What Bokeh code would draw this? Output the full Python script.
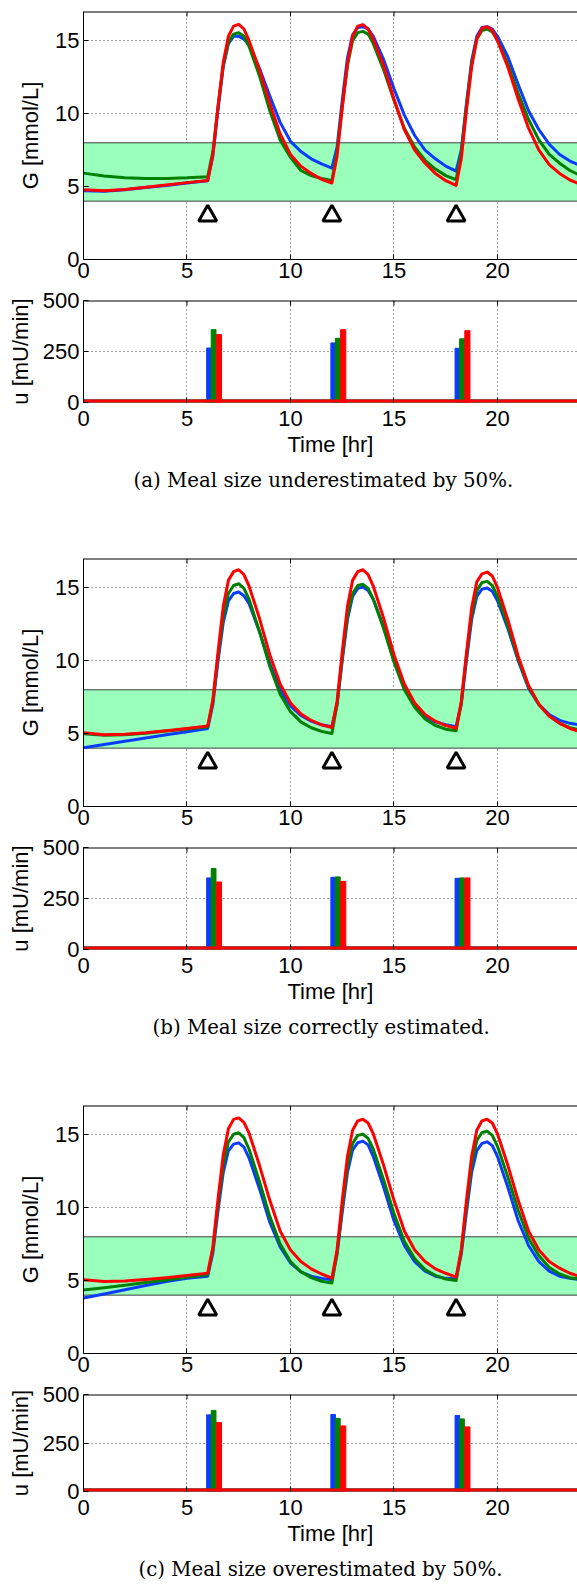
from bokeh.plotting import figure
from bokeh.models import Range1d, Title, FixedTicker
from bokeh.layouts import column
from bokeh.embed import file_html
from bokeh.resources import INLINE

# ---------------- data ----------------
T = [0, 1, 2, 3, 4, 5, 6,
     6.25, 6.5, 6.75, 7, 7.25, 7.5, 7.75, 8, 8.5, 9, 9.5, 10, 10.5, 11, 11.5, 12,
     12.25, 12.5, 12.75, 13, 13.25, 13.5, 13.75, 14, 14.5, 15, 15.5, 16, 16.5, 17, 17.5, 18,
     18.25, 18.5, 18.75, 19, 19.25, 19.5, 19.75, 20, 20.5, 21, 21.5, 22, 22.5, 23, 23.5, 24]

# panel (a) glucose [mmol/L]
Ga_blue = [4.72, 4.68, 4.78, 4.93, 5.08, 5.25, 5.40,
           7.1, 10.3, 13.2, 14.8, 15.3, 15.3, 15.1, 14.7, 13.1, 11.2, 9.4, 8.1, 7.4, 6.9, 6.55, 6.27,
           7.7, 10.9, 13.8, 15.4, 15.9, 15.96, 15.8, 15.3, 13.7, 11.7, 9.9, 8.5, 7.5, 6.9, 6.4, 6.06,
           7.5, 10.7, 13.6, 15.3, 15.9, 15.96, 15.8, 15.3, 13.9, 12.0, 10.2, 8.9, 7.9, 7.2, 6.75, 6.45]
Ga_green = [5.92, 5.72, 5.60, 5.55, 5.56, 5.60, 5.68,
            7.4, 10.5, 13.3, 14.9, 15.45, 15.55, 15.3, 14.6, 12.6, 10.2, 8.2, 7.0, 6.1, 5.75, 5.55, 5.42,
            7.4, 10.5, 13.3, 15.0, 15.55, 15.64, 15.45, 14.8, 13.0, 10.9, 9.0, 7.7, 6.8, 6.2, 5.75, 5.47,
            7.3, 10.5, 13.4, 15.1, 15.7, 15.8, 15.6, 15.0, 13.4, 11.4, 9.6, 8.2, 7.2, 6.6, 6.1, 5.77]
Ga_red = [4.78, 4.72, 4.80, 4.95, 5.10, 5.27, 5.42,
          7.2, 10.5, 13.5, 15.3, 16.0, 16.12, 15.8, 15.0, 13.0, 10.7, 8.6, 7.2, 6.4, 5.9, 5.5, 5.24,
          7.1, 10.4, 13.4, 15.3, 16.0, 16.1, 15.8, 15.1, 13.3, 11.0, 8.9, 7.5, 6.6, 5.9, 5.4, 5.08,
          6.9, 10.2, 13.2, 15.1, 15.85, 15.95, 15.7, 15.0, 13.2, 11.0, 9.0, 7.5, 6.5, 5.9, 5.45, 5.15]

# panel (b) glucose [mmol/L]
Gb_blue = [4.03, 4.25, 4.48, 4.70, 4.92, 5.13, 5.35,
           7.0, 10.0, 12.6, 14.1, 14.6, 14.7, 14.45, 13.9, 12.0, 9.8, 8.0, 6.9, 6.25, 5.85, 5.6, 5.47,
           7.0, 10.0, 12.8, 14.4, 14.95, 15.04, 14.8, 14.2, 12.3, 10.0, 8.1, 6.9, 6.2, 5.8, 5.6, 5.47,
           7.0, 10.0, 12.8, 14.4, 14.9, 14.98, 14.75, 14.1, 12.2, 10.0, 8.1, 7.0, 6.3, 5.9, 5.7, 5.58]
Gb_green = [4.98, 4.88, 4.92, 5.02, 5.17, 5.32, 5.45,
            7.2, 10.3, 13.0, 14.6, 15.15, 15.27, 14.95, 14.2, 12.0, 9.6, 7.7, 6.5, 5.8, 5.4, 5.15, 5.01,
            7.0, 10.2, 13.0, 14.6, 15.15, 15.23, 14.95, 14.2, 12.2, 9.9, 8.0, 6.8, 6.0, 5.55, 5.3, 5.2,
            7.1, 10.3, 13.1, 14.8, 15.35, 15.43, 15.15, 14.4, 12.4, 10.1, 8.2, 7.0, 6.2, 5.7, 5.4, 5.24]
Gb_red = [5.06, 4.92, 4.95, 5.05, 5.20, 5.35, 5.52,
          7.3, 10.6, 13.7, 15.5, 16.1, 16.23, 15.9, 15.1, 12.9, 10.4, 8.4, 7.1, 6.35, 5.9, 5.6, 5.42,
          7.2, 10.6, 13.7, 15.5, 16.1, 16.23, 15.9, 15.1, 12.9, 10.4, 8.4, 7.1, 6.3, 5.85, 5.55, 5.36,
          7.2, 10.5, 13.6, 15.4, 15.95, 16.07, 15.8, 15.0, 12.8, 10.3, 8.3, 7.0, 6.2, 5.7, 5.35, 5.13]

# panel (c) glucose [mmol/L]
Gc_blue = [3.80, 4.08, 4.37, 4.66, 4.94, 5.15, 5.30,
           6.9, 9.8, 12.4, 13.9, 14.35, 14.44, 14.15, 13.4, 11.3, 9.0, 7.3, 6.2, 5.6, 5.3, 5.15, 5.06,
           6.8, 9.7, 12.4, 13.95, 14.45, 14.56, 14.3, 13.5, 11.4, 9.1, 7.4, 6.3, 5.65, 5.3, 5.15, 5.1,
           6.8, 9.7, 12.4, 13.9, 14.4, 14.51, 14.25, 13.5, 11.4, 9.1, 7.4, 6.3, 5.65, 5.3, 5.15, 5.06]
Gc_green = [4.35, 4.50, 4.68, 4.86, 5.04, 5.22, 5.40,
            7.1, 10.2, 12.9, 14.5, 15.03, 15.13, 14.8, 14.0, 11.8, 9.4, 7.5, 6.3, 5.6, 5.2, 4.95, 4.83,
            6.9, 10.0, 12.8, 14.4, 14.95, 15.03, 14.75, 14.0, 11.9, 9.6, 7.7, 6.5, 5.75, 5.35, 5.1, 5.01,
            7.0, 10.1, 12.9, 14.6, 15.15, 15.24, 14.95, 14.2, 12.1, 9.8, 7.9, 6.7, 5.9, 5.45, 5.2, 5.1]
Gc_red = [5.06, 4.93, 4.97, 5.07, 5.20, 5.35, 5.51,
          7.3, 10.6, 13.6, 15.4, 16.05, 16.15, 15.85, 15.1, 12.9, 10.5, 8.4, 7.1, 6.3, 5.8, 5.45, 5.17,
          7.1, 10.5, 13.5, 15.3, 15.95, 16.06, 15.8, 15.05, 12.9, 10.5, 8.4, 7.1, 6.3, 5.8, 5.5, 5.24,
          7.1, 10.5, 13.5, 15.3, 15.95, 16.06, 15.8, 15.05, 12.9, 10.5, 8.4, 7.1, 6.3, 5.85, 5.5, 5.28]

# meal times [hr] and insulin boluses [mU/min]
MEALS = [6, 12, 18]
Ua_blue = [267, 292, 266]
Ua_green = [357, 315, 312]
Ua_red = [333, 357, 352]
Ub_blue = [351, 354, 349]
Ub_green = [397, 356, 351]
Ub_red = [331, 334, 351]
Uc_blue = [395, 397, 392]
Uc_green = [418, 376, 374]
Uc_red = [356, 338, 333]

BAND_LO, BAND_HI = 4, 8
MARK_G = 3
G_RANGE = (0, 17)
U_RANGE = (0, 500)
G_TICKS = [0, 5, 10, 15]
U_TICKS = [0, 250, 500]
X_TICKS = [0, 5, 10, 15, 20]

CAPTIONS = ["(a) Meal size underestimated by 50%.",
            "(b) Meal size correctly estimated.",
            "(c) Meal size overestimated by 50%."]

# ---------------- style ----------------
SANS = "Liberation Sans"
SERIF = "DejaVu Serif"
BLUE, GREEN, RED = "#0a3cff", "#008000", "#ff0000"
BAND_COLOR = "#99ffbb"
W = 577
LEFT = 83
XMAX = 23.865
TICK = 5  # px


def make_fig(height, top, bottom, frame_h, y_range, yticks, ygrid, ylabel,
             ylab_standoff, xlab_standoff, xlabel=None):
    p = figure(width=W, height=height, x_range=Range1d(0, XMAX), y_range=Range1d(*y_range),
               output_backend="svg", toolbar_location=None,
               min_border_left=LEFT, min_border_right=0,
               min_border_top=top, min_border_bottom=bottom)
    p.outline_line_color = None
    for ax in (p.xaxis[0], p.yaxis[0]):
        ax.major_tick_in = TICK
        ax.major_tick_out = 0
        ax.minor_tick_in = 0
        ax.minor_tick_out = 0
        ax.axis_line_color = "black"
        ax.major_tick_line_color = "black"
        ax.major_label_text_font = SANS
        ax.major_label_text_font_size = "22px"
        ax.major_label_text_color = "black"
        ax.axis_label_text_font = SANS
        ax.axis_label_text_font_size = "22px"
        ax.axis_label_text_font_style = "normal"
        ax.axis_label_text_color = "black"
    p.xaxis.ticker = FixedTicker(ticks=X_TICKS)
    p.yaxis.ticker = FixedTicker(ticks=yticks)
    p.yaxis.major_label_standoff = 4
    p.xaxis.major_label_standoff = xlab_standoff
    p.yaxis.axis_label = ylabel
    p.yaxis.axis_label_standoff = ylab_standoff
    if xlabel:
        p.xaxis.axis_label = xlabel
        p.xaxis.axis_label_standoff = 3
    p.xgrid.ticker = FixedTicker(ticks=X_TICKS[1:])
    p.ygrid.ticker = FixedTicker(ticks=ygrid)
    p.grid.grid_line_color = "black"
    p.grid.grid_line_dash = "1 3"
    p.grid.grid_line_alpha = 0.75
    # top box edge with inward ticks (MATLAB "box on")
    y0, y1 = y_range
    tick_len = TICK * (y1 - y0) / frame_h
    p.line([0, XMAX], [y1, y1], line_color="black", line_width=2)
    p.segment(x0=X_TICKS[1:], x1=X_TICKS[1:], y0=[y1] * (len(X_TICKS) - 1),
              y1=[y1 - tick_len] * (len(X_TICKS) - 1), line_color="black", line_width=1)
    return p


def glucose_fig(gb, gg, gr):
    p = make_fig(287, 11, 28, 248, G_RANGE, G_TICKS, G_TICKS[1:], "G [mmol/L]", 9, 3)
    p.quad(left=[T[0]], right=[T[-1]], bottom=[BAND_LO], top=[BAND_HI],
           fill_color=BAND_COLOR, line_color=None)
    for lvl in (BAND_LO, BAND_HI):
        p.line([T[0], T[-1]], [lvl, lvl], line_color="#404040", line_width=1)
    for g, c in ((gb, BLUE), (gg, GREEN), (gr, RED)):
        p.line(T, g, line_color=c, line_width=3, line_join="round")
    p.scatter(MEALS, [MARK_G] * len(MEALS), marker="triangle", size=18,
              fill_color=None, line_color="black", line_width=3)
    return p


BAR_OFFS = [(-0.05, 0.17), (0.17, 0.40), (0.42, 0.67)]


def insulin_fig(ub, ug, ur, caption, height, bottom, cap_offset):
    p = make_fig(height, 13, bottom, 102, U_RANGE, U_TICKS, U_TICKS[1:2], "u [mU/min]", 7, 8,
                 xlabel="Time [hr]")
    p.xaxis.axis_line_color = None
    for (lo, hi), u, c in zip(BAR_OFFS, (ub, ug, ur), (BLUE, GREEN, RED)):
        p.quad(left=[m + lo for m in MEALS], right=[m + hi for m in MEALS],
               bottom=[0] * len(MEALS), top=u, fill_color=c, line_color=c, line_width=1)
        p.line([T[0], T[-1]], [0, 0], line_color=c, line_width=6)
    p.add_layout(Title(text=caption, align="left", offset=cap_offset, text_font=SERIF,
                       text_font_size="19.8px", text_font_style="normal",
                       text_color="black", standoff=14), "below")
    return p


figs = [
    glucose_fig(Ga_blue, Ga_green, Ga_red),
    insulin_fig(Ua_blue, Ua_green, Ua_red, CAPTIONS[0], 260, 145, 50),
    glucose_fig(Gb_blue, Gb_green, Gb_red),
    insulin_fig(Ub_blue, Ub_green, Ub_red, CAPTIONS[1], 260, 145, 69),
    glucose_fig(Gc_blue, Gc_green, Gc_red),
    insulin_fig(Uc_blue, Uc_green, Uc_red, CAPTIONS[2], 206, 91, 55),
]

layout = column(*figs, spacing=0)
open("out.html", "w").write(file_html(layout, INLINE))
